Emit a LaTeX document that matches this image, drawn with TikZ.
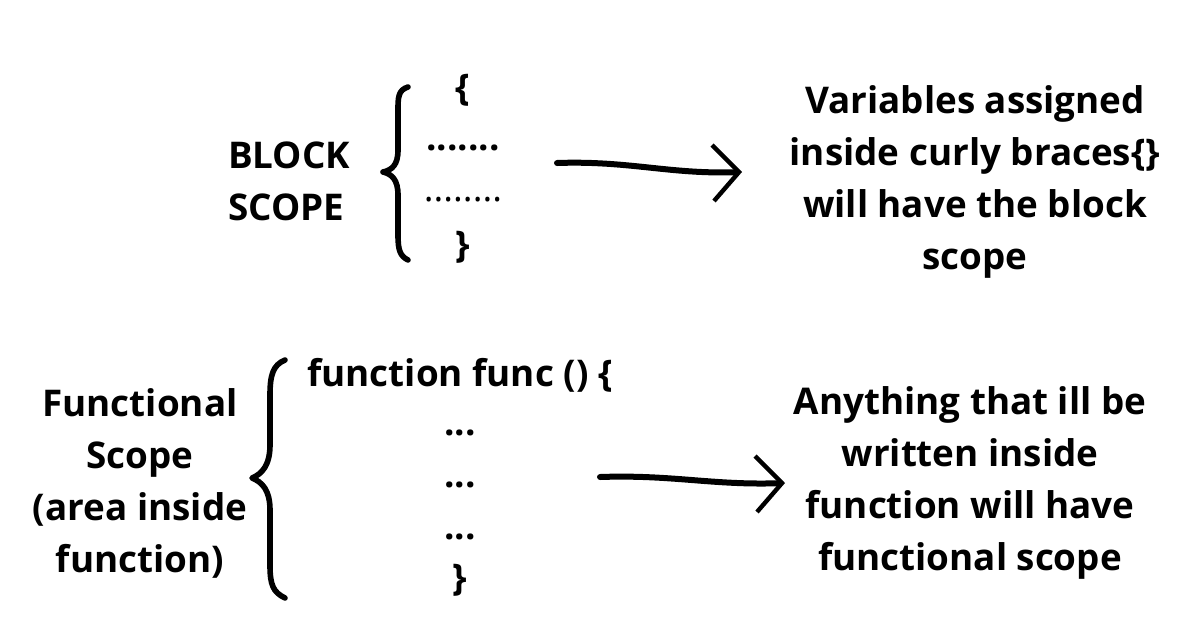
\documentclass[tikz,border=0pt]{standalone}
\usepackage{fontspec}
\setmainfont{Open Sans}
\usepackage{tikz}
\usetikzlibrary{arrows.meta,positioning,calc}

\begin{document}
\begin{tikzpicture}[
    x=0.5pt, y=-0.5pt,
    every node/.style = {font=\bfseries\fontsize{18.4}{26}\selectfont, inner sep=0pt},
    txt/.style = {align=center},
    brace/.style = {line width=2.8pt, line cap=round, line join=round},
    arr/.style = {line width=3pt, line cap=round,
      -{Straight Barb[length=13pt, width=28pt, line width=2.2pt]}}
  ]
  \useasboundingbox (0,0) rectangle (1200,628);

  % block scope
  \node (bs) [align=left] at (289,181) {BLOCK\\SCOPE};
  \draw[brace] (408,87) .. controls (398,90) and (398,98) .. (398,110)
    -- (398,150) .. controls (398,165) and (392,170) .. (383,172)
    .. controls (392,174) and (398,180) .. (398,195)
    -- (398,235) .. controls (398,250) and (400,256) .. (408,260);
  \node (ob) at (463,90) {\{};
  \node (d1) at (463,148) {.......};
  \node (d2) at (463,200) {\mdseries ........};
  \node (cb) at (463,247) {\}};
  \coordinate (a1) at (557,163);
  \coordinate (b1) at (742,172);
  \draw[arr] (a1) to[out=2,in=182] (b1);
  \node (vt) [txt] at (975,182) {Variables assigned\\inside curly braces\{\}\\will have the block\\scope};

  % functional scope
  \node (fs) [txt] at (140,483) {Functional\\Scope\\(area inside\\function)};
  \draw[brace] (285,360) .. controls (273,365) and (270,375) .. (270,395)
    -- (270,445) .. controls (270,465) and (262,474) .. (252,478)
    .. controls (262,482) and (270,490) .. (270,510)
    -- (270,565) .. controls (270,585) and (273,592) .. (285,598);
  \node (fn) at (460,375) {function func () \{};
  \node (e1) at (460,433) {...};
  \node (e2) at (460,485) {...};
  \node (e3) at (460,537) {...};
  \node (fc) at (460,580) {\}};
  \coordinate (a2) at (600,477);
  \coordinate (b2) at (785,483);
  \draw[arr] (a2) to[out=2,in=182] (b2);
  \node (at) [txt] at (970,483) {Anything that ill be\\written inside\\function will have\\functional scope};
\end{tikzpicture}
\end{document}
